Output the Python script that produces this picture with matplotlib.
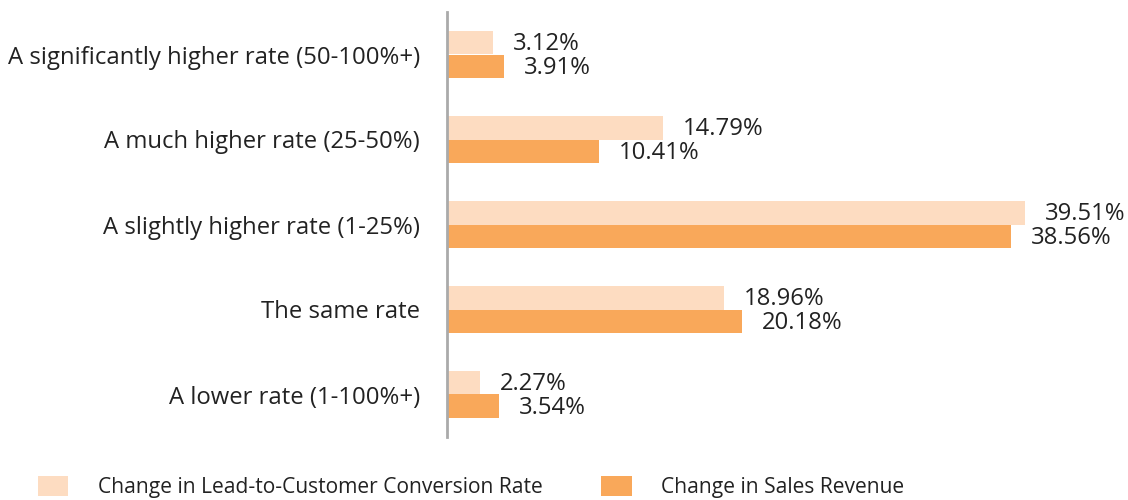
import matplotlib
matplotlib.use("Agg")
import matplotlib.pyplot as plt
import numpy as np

categories = ["A significantly higher rate (50-100%+)", "A much higher rate (25-50%)",
              "A slightly higher rate (1-25%)", "The same rate", "A lower rate (1-100%+)"]
conversion = [3.12, 14.79, 39.51, 18.96, 2.27]
revenue = [3.91, 10.41, 38.56, 20.18, 3.54]
series_names = ["Change in Lead-to-Customer Conversion Rate", "Change in Sales Revenue"]

light = "#fddcc1"
dark = "#f9a85a"
plt.rcParams['font.family'] = ['Open Sans', 'DejaVu Sans']

fig = plt.figure(figsize=(11.28, 5), dpi=100)
ax = fig.add_axes([447/1128, 1-437/500, 1-447/1128-0.02, (437-12)/500])

y = np.arange(len(categories))
h = 0.28
b1 = ax.barh(y - h/2, conversion, height=h, color=light, label=series_names[0])
b2 = ax.barh(y + h/2, revenue, height=h, color=dark, label=series_names[1])

fs = 17.2
for yy, v in zip(y, conversion):
    ax.text(v + 1.35, yy - h/2 + 0.02, f"{v:.2f}%", va="center", ha="left", fontsize=fs, color="#222222")
for yy, v in zip(y, revenue):
    ax.text(v + 1.35, yy + h/2 + 0.02, f"{v:.2f}%", va="center", ha="left", fontsize=fs, color="#222222")

ax.set_ylim(len(categories) - 0.5, -0.5)
ax.set_xlim(0, 45)
ax.set_yticks(y)
ax.set_yticklabels(categories, fontsize=fs, color="#222222")
ax.tick_params(axis="y", length=0, pad=19.5)
ax.set_xticks([])
for s in ["top", "right", "bottom"]:
    ax.spines[s].set_visible(False)
ax.spines["left"].set_color("#aaaaaa")
ax.spines["left"].set_linewidth(2)

leg = fig.legend(handles=[b1, b2], labels=series_names, loc="lower left",
                 bbox_to_anchor=(38/1128, 2/500), ncol=2, frameon=False, fontsize=15.1,
                 borderpad=0, borderaxespad=0,
                 handlelength=1.45, handleheight=1.07, handletextpad=1.4, columnspacing=2.8)
for t in leg.get_texts():
    t.set_color("#222222")

fig.savefig("out.png", dpi=100)
